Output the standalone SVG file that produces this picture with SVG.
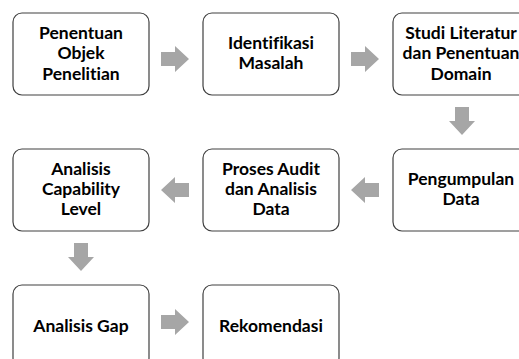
<svg xmlns="http://www.w3.org/2000/svg" width="519" height="359" viewBox="0 0 519 359">
<style>
.box{fill:#fff;stroke:#404040;stroke-width:1.2}
.t{font-family:Lato,"Open Sans",sans-serif;font-weight:bold;font-size:17.5px;fill:#000;text-anchor:middle;font-variant-ligatures:none;font-feature-settings:"liga" 0}
.arr{fill:#a6a6a6}
</style>
<rect width="519" height="359" fill="#fff"/>
<g id="connectors">
<polygon class="arr" points="161,52 175,52 175,46 189,59 175,72 175,66 161,66"/>
<polygon class="arr" points="351,52 365,52 365,46 379,59 365,72 365,66 351,66"/>
<polygon class="arr" points="455,107 469,107 469,121 475,121 462,135 449,121 455,121"/>
<polygon class="arr" points="379,183 365,183 365,177 351,190 365,203 365,197 379,197"/>
<polygon class="arr" points="189,183 175,183 175,177 161,190 175,203 175,197 189,197"/>
<polygon class="arr" points="74,243 88,243 88,257 94,257 81,271 68,257 74,257"/>
<polygon class="arr" points="161,315 175,315 175,309 189,322 175,335 175,329 161,329"/>
</g>
<g id="n1"><rect class="box" x="13" y="13" width="136" height="82" rx="9"/>
<text class="t" x="81" y="39">Penentuan</text><text class="t" x="81" y="59">Objek</text><text class="t" x="81" y="80">Penelitian</text></g>
<g id="n2"><rect class="box" x="203" y="13" width="136" height="82" rx="9"/>
<text class="t" x="271" y="49">Identifikasi</text><text class="t" x="271" y="69">Masalah</text></g>
<g id="n3"><rect class="box" x="393" y="13" width="136" height="82" rx="9"/>
<text class="t" x="461" y="39">Studi Literatur</text><text class="t" x="461" y="59">dan Penentuan</text><text class="t" x="461" y="80">Domain</text></g>
<g id="n4"><rect class="box" x="393" y="149" width="136" height="82" rx="9"/>
<text class="t" x="461" y="185">Pengumpulan</text><text class="t" x="461" y="205">Data</text></g>
<g id="n5"><rect class="box" x="203" y="149" width="136" height="82" rx="9"/>
<text class="t" x="271" y="175">Proses Audit</text><text class="t" x="271" y="195">dan Analisis</text><text class="t" x="271" y="215">Data</text></g>
<g id="n6"><rect class="box" x="13" y="149" width="136" height="82" rx="9"/>
<text class="t" x="81" y="175">Analisis</text><text class="t" x="81" y="195">Capability</text><text class="t" x="81" y="215">Level</text></g>
<g id="n7"><rect class="box" x="13" y="285" width="136" height="82" rx="9"/>
<text class="t" x="81" y="332">Analisis Gap</text></g>
<g id="n8"><rect class="box" x="203" y="285" width="136" height="82" rx="9"/>
<text class="t" x="271" y="332">Rekomendasi</text></g>
</svg>
